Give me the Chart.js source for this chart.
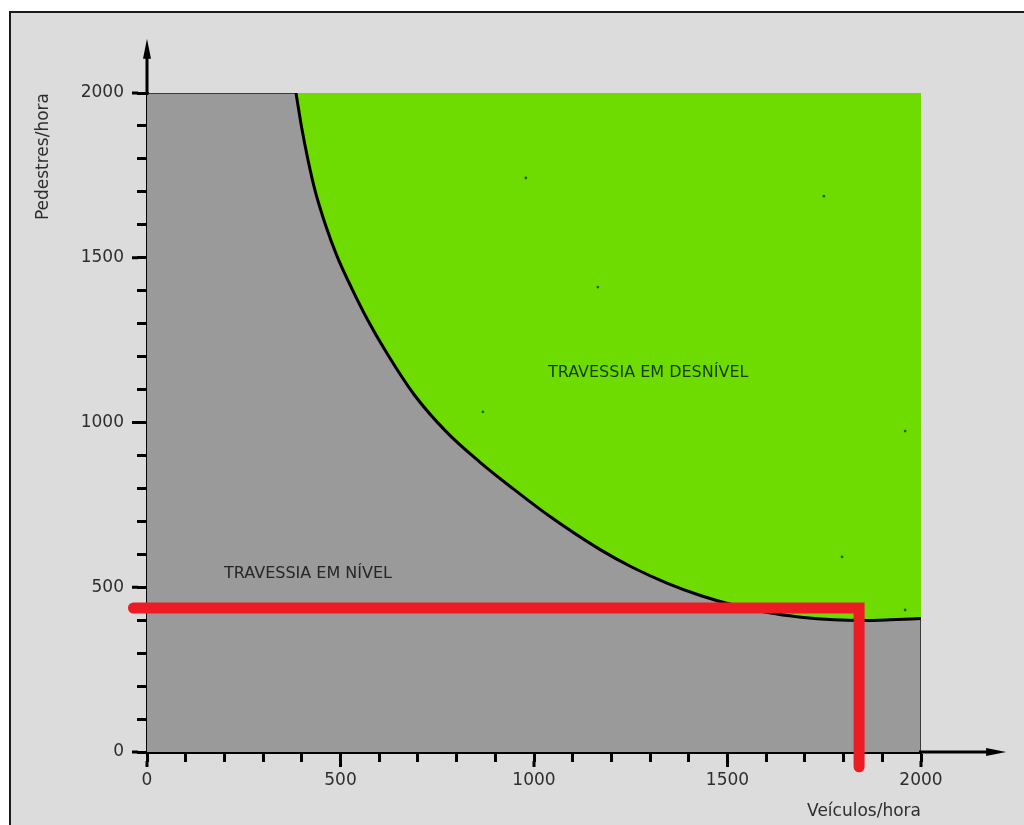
<!DOCTYPE html>
<html>
<head>
<meta charset="utf-8">
<script src="https://cdn.jsdelivr.net/npm/chart.js"></script>
<style>
	html, body { margin: 0; padding: 0; background: #fff; overflow: hidden; }
	.frame { position: absolute; left: 9px; top: 11px; width: 1100px; height: 900px; border: 2px solid #1a1a1a; background: #dcdcdc; }
	canvas { position: absolute; left: 0; top: 0; }
</style>
</head>
<body>
<div class="frame"></div>
<canvas id="myChart" width="1024" height="825"></canvas>
<script>
// limite entre travessia em nivel e em desnivel
const curveVeiculos = [385, 400, 416, 434, 460, 491, 530, 570, 620, 690, 775, 860, 945, 1035, 1170, 1255, 1345, 1430, 1515, 1600, 1690, 1775, 1850, 1920, 2000]
const curvePedestres = [2000, 1893, 1797, 1705, 1604, 1505, 1405, 1312, 1210, 1085, 970, 880, 800, 720, 615, 560, 512, 475, 446, 424, 409, 401, 399, 401, 405]

// area do grafico (0..2000 x 0..2000)
const boxVeiculos = [0, 2000, 2000]
const boxPedestres = [2000, 2000, 0]

// linhas vermelhas marcadas a mao
const redVeiculos = [-35, 1840, 1840]
const redPedestres = [437, 437, -45]

// pontinhos soltos na area verde
const dotVeiculos = [979, 1749, 1165, 868, 1959, 1796, 1959]
const dotPedestres = [1742, 1687, 1411, 1032, 974, 592, 431]

const tickLabels = [0, 500, 1000, 1500, 2000]
const axisEnd = [2220, 2165]

const regionLabels = ['TRAVESSIA EM NÍVEL', 'TRAVESSIA EM DESNÍVEL']
const regionVeiculos = [416, 1295]
const regionPedestres = [540, 1150]
const regionColors = ['#262626', '#163d00']

const pts = (xs, ys) => xs.map((v, i) => ({ x: v, y: ys[i] }))

const extras = {
	id: 'extras',
	afterDatasetsDraw(chart) {
		const { ctx, scales: { x, y } } = chart
		const x0 = x.getPixelForValue(0)
		const y0 = y.getPixelForValue(0)
		const xEnd = x.getPixelForValue(axisEnd[0])
		const yEnd = y.getPixelForValue(axisEnd[1])
		ctx.save()
		ctx.strokeStyle = '#000'
		ctx.fillStyle = '#000'
		ctx.lineWidth = 3
		ctx.beginPath()
		ctx.moveTo(x.right - 2, y0)
		ctx.lineTo(xEnd - 12, y0)
		ctx.moveTo(x0, y.top + 2)
		ctx.lineTo(x0, yEnd + 12)
		// ticks maiores nos valores com rotulo
		tickLabels.forEach(v => {
			const px = x.getPixelForValue(v)
			const py = y.getPixelForValue(v)
			ctx.moveTo(px, y0 + 9)
			ctx.lineTo(px, y0 + 15)
			ctx.moveTo(x0 - 9, py)
			ctx.lineTo(x0 - 15, py)
		})
		ctx.stroke()
		ctx.beginPath()
		ctx.moveTo(xEnd, y0)
		ctx.lineTo(xEnd - 20, y0 - 4)
		ctx.lineTo(xEnd - 20, y0 + 4)
		ctx.closePath()
		ctx.moveTo(x0, yEnd)
		ctx.lineTo(x0 - 4, yEnd + 20)
		ctx.lineTo(x0 + 4, yEnd + 20)
		ctx.closePath()
		ctx.fill()

		ctx.font = '16px "DejaVu Sans"'
		ctx.textAlign = 'center'
		ctx.textBaseline = 'middle'
		regionLabels.forEach((txt, i) => {
			ctx.fillStyle = regionColors[i]
			ctx.fillText(txt, x.getPixelForValue(regionVeiculos[i]), y.getPixelForValue(regionPedestres[i]))
		})
		ctx.restore()
	}
}

const axisFont = { family: 'DejaVu Sans', size: 17 }

const ctx = document.getElementById('myChart').getContext('2d')
const myChart = new Chart(ctx, {
	type: 'line',
	data: {
		datasets: [
			{
				data: pts(boxVeiculos.slice(0, 2), boxPedestres.slice(0, 2)),
				backgroundColor: '#9a9a9a',
				borderWidth: 0,
				pointRadius: 0,
				fill: 'origin',
				order: 6,
			},
			{
				data: pts(curveVeiculos, curvePedestres),
				borderColor: '#000',
				borderWidth: 3,
				backgroundColor: '#6edc00',
				pointRadius: 0,
				cubicInterpolationMode: 'monotone',
				fill: { value: 2000 },
				order: 4,
			},
			{
				data: pts(boxVeiculos, boxPedestres),
				borderColor: '#3a3a3a',
				borderWidth: 2,
				pointRadius: 0,
				fill: false,
				order: 5,
			},
			{
				data: pts(dotVeiculos, dotPedestres),
				showLine: false,
				pointRadius: 1.4,
				pointBackgroundColor: '#2a6000',
				pointBorderWidth: 0,
				order: 3,
			},
			{
				data: pts(redVeiculos, redPedestres),
				borderColor: '#ed1c24',
				borderWidth: 11,
				borderCapStyle: 'round',
				borderJoinStyle: 'miter',
				pointRadius: 0,
				fill: false,
				clip: false,
				order: 1,
			},
		],
	},
	options: {
		responsive: false,
		animation: false,
		devicePixelRatio: 1,
		layout: { padding: { top: 93, right: 103, left: 0, bottom: 0 } },
		plugins: {
			legend: { display: false },
			tooltip: { enabled: false },
		},
		scales: {
			x: {
				type: 'linear',
				min: 0,
				max: 2000,
				afterFit: scale => { scale.height = 73 },
				ticks: {
					stepSize: 100,
					autoSkip: false,
					maxRotation: 0,
					padding: 8,
					color: '#2e2e2e',
					font: axisFont,
					callback: v => (tickLabels.includes(v) ? v : ''),
				},
				grid: { drawOnChartArea: false, drawTicks: true, tickLength: 10, tickWidth: 3, tickColor: '#000' },
				border: { display: true, color: '#000', width: 3 },
				title: {
					display: true,
					text: 'Veículos/hora',
					align: 'end',
					color: '#2e2e2e',
					font: axisFont,
					padding: { top: 0, bottom: 3 },
				},
			},
			y: {
				min: 0,
				max: 2000,
				afterFit: scale => { scale.width = 147 },
				ticks: {
					stepSize: 100,
					autoSkip: false,
					padding: 13,
					color: '#2e2e2e',
					font: axisFont,
					callback: v => (tickLabels.includes(v) ? v : ''),
				},
				grid: { drawOnChartArea: false, drawTicks: true, tickLength: 10, tickWidth: 3, tickColor: '#000' },
				border: { display: true, color: '#000', width: 3 },
				title: {
					display: true,
					text: 'Pedestres/hora',
					align: 'end',
					color: '#2e2e2e',
					font: axisFont,
					padding: { top: 33, bottom: 0 },
				},
			},
		},
	},
	plugins: [extras],
})
</script>
</body>
</html>
